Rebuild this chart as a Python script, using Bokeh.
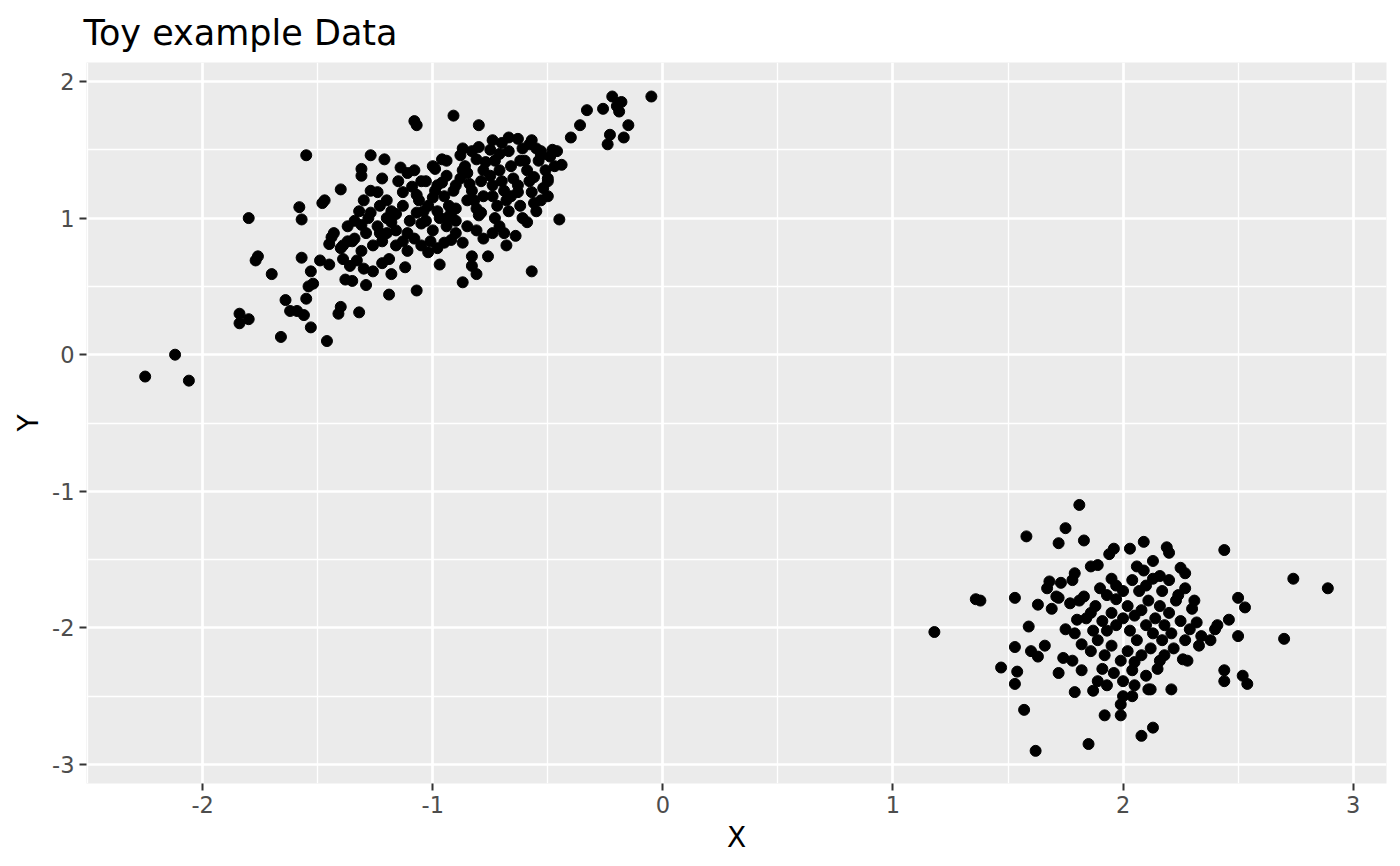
from bokeh.plotting import figure
from bokeh.models import FixedTicker, Range1d, ColumnDataSource
from bokeh.embed import file_html
from bokeh.resources import INLINE

# Cluster A (upper left, elongated)
a_x = [-2.25, -2.12, -2.06, -1.84, -1.84, -1.80, -1.80, -1.77, -1.76, -1.70, -1.66, -1.64, -1.62, -1.59,
       -1.58, -1.57, -1.57, -1.56, -1.55, -1.55, -1.54, -1.53, -1.53, -1.52, -1.49, -1.48, -1.47, -1.46,
       -1.45, -1.45, -1.44, -1.43, -1.41, -1.40, -1.40, -1.40, -1.39, -1.38, -1.37, -1.35, -1.34, -1.32,
       -1.31, -1.31, -1.31, -1.29, -1.28, -1.27, -1.26, -1.24, -1.23, -1.22, -1.21, -1.20, -1.19, -1.19,
       -1.18, -1.16, -1.15, -1.13, -1.12, -1.11, -1.08, -1.07, -1.07, -1.05, -1.03, -1.02, -0.99, -0.97,
       -0.96, -0.95, -0.91, -0.90, -0.88, -0.87, -0.85, -0.83, -0.81, -0.80, -0.80, -0.78, -0.76, -0.75,
       -0.73, -0.71, -0.69, -0.67, -0.64, -0.62, -0.61, -0.58, -0.57, -0.56, -0.53, -0.52, -0.50, -0.48,
       -0.45, -0.44, -0.40, -0.36, -0.33, -0.26, -0.24, -0.23, -0.22, -0.20, -0.19, -0.18, -0.17, -0.15,
       -0.05,
       -1.14, -1.11, -1.09, -1.07, -1.06, -1.04, -1.02, -1.00, -0.99, -0.98, -0.96, -0.95, -0.94, -0.93,
       -0.92, -0.91, -0.90, -0.88, -0.87, -0.86, -0.85, -0.84, -0.83, -0.82, -0.81, -0.80, -0.79, -0.78,
       -0.77, -0.75, -0.74, -0.74, -0.73, -0.71, -0.70, -0.69, -0.68, -0.67, -0.67, -0.66, -0.65, -0.63,
       -0.63, -0.61, -0.60, -0.59, -0.58, -0.57, -0.56, -0.55, -0.54, -0.53, -0.51, -0.50, -0.49, -0.47,
       -0.46, -0.92, -0.90, -0.94, -0.97, -1.00, -1.01, -1.05, -1.08, -1.11, -1.13, -1.16, -1.18, -1.20,
       -1.22, -1.24, -1.27, -1.29, -1.31, -1.33, -1.36, -1.30, -1.26, -1.22, -1.27, -1.30, -1.32, -1.34,
       -1.37, -1.35, -1.39, -1.16, -1.10, -1.07, -1.03, -0.98, -0.94, -0.90, -0.85, -0.81, -0.78, -0.74,
       -0.71, -0.68, -0.83, -0.81, -0.87, -0.94, -1.00, -1.05, -1.08, -1.13, -1.18, -1.20, -1.23, -0.98,
       -0.87, -0.83, -0.79, -0.72, -0.66, -0.62, -0.59, -0.53, -0.50, -0.74, -0.70, -0.63, -0.57, -0.55]
a_y = [-0.16, 0.00, -0.19, 0.30, 0.23, 1.00, 0.26, 0.69, 0.72, 0.59, 0.13, 0.40, 0.32, 0.32,
       1.08, 0.99, 0.71, 0.29, 1.46, 0.41, 0.50, 0.20, 0.61, 0.52, 0.69, 1.11, 1.13, 0.10,
       0.66, 0.81, 0.86, 0.89, 0.30, 0.35, 1.21, 0.78, 0.80, 0.55, 0.83, 0.54, 0.85, 0.31,
       1.36, 1.31, 0.95, 0.51, 1.00, 1.46, 0.80, 1.19, 0.89, 1.29, 1.43, 1.13, 0.44, 0.70,
       0.59, 1.03, 1.27, 1.19, 0.64, 0.89, 1.71, 1.68, 0.47, 0.96, 1.27, 0.75, 1.36, 0.66,
       1.43, 0.82, 1.75, 1.07, 1.46, 0.53, 1.13, 0.72, 0.59, 1.68, 1.52, 1.16, 0.72, 1.50,
       1.00, 1.47, 0.89, 1.59, 0.87, 1.42, 1.00, 1.54, 0.61, 1.30, 1.46, 1.22, 1.27, 1.50,
       0.99, 1.39, 1.59, 1.68, 1.79, 1.80, 1.54, 1.61, 1.89, 1.82, 1.78, 1.85, 1.59, 1.68,
       1.89,
       1.37, 1.33, 1.23, 1.17, 1.13, 1.05, 1.09, 1.15, 1.20, 1.24, 1.26, 1.16, 1.31, 1.09,
       1.04, 1.20, 1.24, 1.29, 1.35, 1.38, 1.33, 1.25, 1.20, 1.13, 1.07, 1.02, 1.27, 1.35,
       1.41, 1.31, 1.24, 1.16, 1.42, 1.35, 1.27, 1.20, 1.13, 1.05, 1.49, 1.38, 1.29, 1.24,
       1.19, 1.51, 1.42, 1.35, 1.27, 1.19, 1.11, 1.05, 1.42, 1.49, 1.35, 1.29, 1.45, 1.38,
       1.49, 0.84, 0.89, 0.94, 1.00, 0.91, 0.83, 0.80, 0.85, 0.76, 0.83, 0.91, 0.97, 0.89,
       0.83, 0.94, 1.04, 0.89, 0.76, 0.69, 0.65, 0.63, 0.61, 0.67, 1.20, 1.13, 1.05, 0.98,
       0.94, 0.83, 0.70, 0.80, 0.98, 1.04, 0.98, 1.05, 1.00, 0.98, 0.94, 0.91, 0.85, 0.89,
       0.94, 0.80, 1.49, 1.43, 1.51, 1.42, 1.38, 1.27, 1.35, 1.09, 1.05, 1.00, 1.09, 0.78,
       0.82, 0.65, 1.04, 1.09, 1.16, 1.09, 0.97, 1.13, 1.16, 1.57, 1.55, 1.58, 1.57, 1.51]

# Cluster B (lower right, round)
b_x = [1.18, 1.36, 1.38, 1.47, 1.53, 1.53, 1.53, 1.54, 1.57, 1.58, 1.59, 1.60, 1.62, 1.63, 1.63, 1.66,
       1.67, 1.68, 1.69, 1.71, 1.72, 1.72, 1.72, 1.73, 1.74, 1.75, 1.77, 1.78, 1.79, 1.79, 1.79, 1.80,
       1.81, 1.82, 1.83, 1.83, 1.85, 1.86, 1.86, 1.86, 1.89, 1.89, 1.91, 1.92, 1.94, 1.96, 1.95, 1.97,
       1.99, 1.99, 2.00, 2.03, 2.04, 2.08, 2.09, 2.11, 2.12, 2.13, 2.16, 2.19, 2.20, 2.21, 2.25, 2.27,
       2.30, 2.32, 2.33, 2.40, 2.44, 2.44, 2.44, 2.46, 2.50, 2.53, 2.52, 2.54, 2.50, 2.70, 2.74, 2.89,
       1.91, 1.93, 1.95, 1.97, 2.00, 2.02, 2.03, 2.05, 2.06, 2.08, 2.10, 2.11, 2.13, 2.14, 2.16, 2.17,
       2.18, 2.20, 2.21, 2.23, 2.25, 2.27, 2.29, 1.89, 1.92, 1.95, 1.99, 2.02, 2.05, 2.08, 2.12, 2.15,
       2.18, 2.22, 2.26, 1.96, 2.00, 2.04, 2.10, 1.93, 1.97, 2.00, 2.04, 2.07, 2.10, 2.13, 2.17, 2.20,
       2.24, 2.27, 2.06, 2.09, 2.13, 1.87, 1.84, 1.81, 1.88, 1.90, 2.34, 2.38, 2.41, 1.75, 1.78, 1.82,
       1.87, 1.93, 2.05, 2.28, 2.31, 2.16]
b_y = [-2.03, -1.79, -1.80, -2.29, -1.78, -2.14, -2.41, -2.32, -2.60, -1.33, -1.99, -2.17, -2.90, -1.83, -2.21, -2.13,
       -1.71, -1.66, -1.86, -1.77, -1.78, -1.38, -2.33, -1.67, -2.22, -1.27, -1.82, -1.65, -1.60, -2.04, -2.47, -1.94,
       -1.10, -2.12, -1.77, -1.36, -2.85, -1.55, -1.89, -2.17, -1.54, -2.39, -2.30, -2.64, -1.46, -1.42, -1.64, -1.79,
       -2.56, -2.64, -2.50, -1.42, -2.50, -2.79, -1.37, -2.45, -2.45, -2.73, -2.24, -1.41, -1.45, -2.45, -1.56, -1.60,
       -1.86, -1.96, -2.13, -2.01, -1.43, -2.31, -2.39, -1.94, -1.78, -1.85, -2.35, -2.41, -2.06, -2.08, -1.64, -1.71,
       -1.95, -2.02, -1.89, -1.98, -1.93, -1.84, -2.02, -1.91, -2.09, -1.87, -1.98, -1.80, -2.04, -1.93, -1.84, -2.09,
       -1.98, -1.89, -2.04, -1.80, -1.95, -2.09, -2.01, -2.09, -2.20, -2.13, -2.24, -2.17, -2.25, -2.20, -2.15, -2.30,
       -2.20, -2.15, -2.23, -2.33, -2.39, -2.31, -2.35, -1.76, -1.69, -1.73, -1.65, -1.73, -1.69, -1.64, -1.73, -1.65,
       -1.76, -1.71, -1.55, -1.58, -1.51, -2.02, -1.93, -1.80, -1.84, -1.71, -2.06, -2.09, -1.98, -2.01, -2.24, -2.31,
       -2.46, -2.42, -2.42, -2.24, -1.80, -1.62]

x_ticks = [-2, -1, 0, 1, 2, 3]
y_ticks = [-3, -2, -1, 0, 1, 2]
x_minor = [-2.5, -1.5, -0.5, 0.5, 1.5, 2.5]
y_minor = [-2.5, -1.5, -0.5, 0.5, 1.5]

xs = a_x + b_x
ys = a_y + b_y
src = ColumnDataSource(dict(x=xs, y=ys))

p = figure(width=1392, height=858, output_backend="svg", toolbar_location=None,
           x_range=Range1d(-2.505, 3.145), y_range=Range1d(-3.139, 2.139),
           title="Toy example Data",
           min_border_left=86, min_border_right=6, min_border_top=62, min_border_bottom=75)

p.background_fill_color = "#EBEBEB"
p.border_fill_color = "white"
p.outline_line_color = None

p.title.text_font = "DejaVu Sans"
p.title.text_font_size = "35px"
p.title.text_font_style = "normal"
p.title.text_color = "black"
p.title.offset = -3
p.title.standoff = 20

for ax, ticks, minor in ((p.xaxis[0], x_ticks, x_minor), (p.yaxis[0], y_ticks, y_minor)):
    ax.ticker = FixedTicker(ticks=ticks, minor_ticks=minor)
    ax.major_label_overrides = {t: str(t) for t in ticks}
    ax.axis_line_color = None
    ax.major_tick_line_color = "#333333"
    ax.major_tick_line_width = 2
    ax.major_tick_in = 0
    ax.major_tick_out = 7
    ax.minor_tick_line_color = None
    ax.major_label_text_font = "DejaVu Sans"
    ax.major_label_text_font_size = "22.5px"
    ax.major_label_text_color = "#4D4D4D"
    ax.major_label_standoff = 5
    ax.axis_label_text_font = "DejaVu Sans"
    ax.axis_label_text_font_size = "28px"
    ax.axis_label_text_font_style = "normal"
    ax.axis_label_text_color = "black"

p.xaxis.axis_label = "X"
p.yaxis.axis_label = "Y"
p.xaxis.axis_label_standoff = 5
p.yaxis.axis_label_standoff = 4

for g in (p.xgrid[0], p.ygrid[0]):
    g.grid_line_color = "white"
    g.grid_line_width = 2.7
    g.minor_grid_line_color = "white"
    g.minor_grid_line_width = 1.35

p.scatter("x", "y", source=src, size=11, fill_color="black", line_color="black")

open("out.html", "w").write(file_html(p, INLINE))
